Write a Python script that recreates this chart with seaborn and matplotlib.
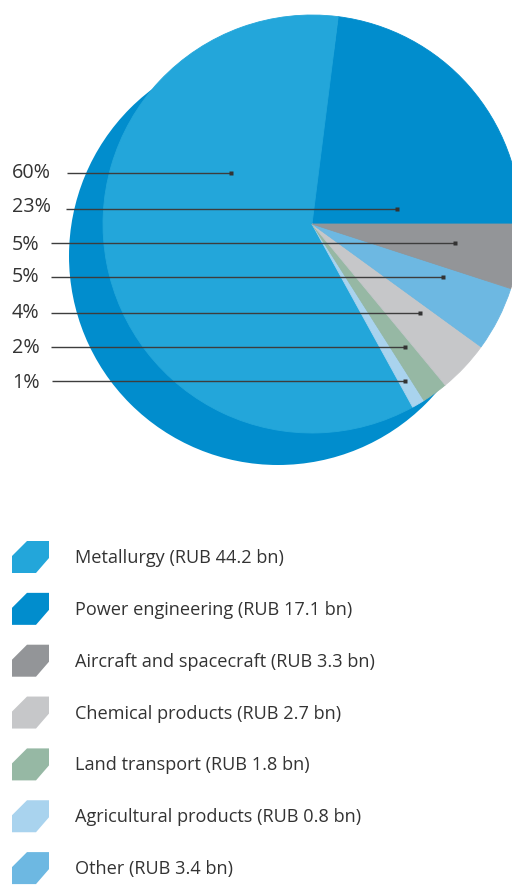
import matplotlib
matplotlib.use("Agg")
import matplotlib.pyplot as plt
from matplotlib.patches import Circle, Polygon
import seaborn as sns

# Revenue by industry
categories = ["Metallurgy", "Power engineering", "Aircraft and spacecraft",
              "Chemical products", "Land transport", "Agricultural products", "Other"]
revenue_bn = [44.2, 17.1, 3.3, 2.7, 1.8, 0.8, 3.4]
share_pct = [60, 23, 5, 4, 2, 1, 5]
colors = ["#23a6da", "#018dcd", "#939598", "#c6c7c9", "#96b8a4", "#a9d3ee", "#6db8e2"]

# wedge order, counter-clockwise starting at 3 o'clock
pie_order = ["Power engineering", "Metallurgy", "Agricultural products",
             "Land transport", "Chemical products", "Other", "Aircraft and spacecraft"]

# percentage callouts, top to bottom
callout_order = ["Metallurgy", "Power engineering", "Aircraft and spacecraft", "Other",
                 "Chemical products", "Land transport", "Agricultural products"]

W, H = 512, 885
TEXT = "#333333"
LINE = "#3d3d3d"

sns.set_theme(style="white")
plt.rcParams["font.family"] = ["Open Sans", "DejaVu Sans"]

fig = plt.figure(figsize=(W / 100, H / 100), dpi=100)
ax = fig.add_axes([0, 0, 1, 1])

color_of = dict(zip(categories, colors))
share_of = dict(zip(categories, share_pct))

# darker disc offset behind the pie
ax.add_patch(Circle((278, 256), 209, facecolor=color_of["Power engineering"],
                    edgecolor="none", zorder=1))

# y axis is flipped below, so clockwise in data space reads counter-clockwise on screen
wedges, _ = ax.pie([share_of[c] for c in pie_order],
                   colors=[color_of[c] for c in pie_order],
                   center=(312, 224), radius=209, startangle=0, counterclock=False,
                   wedgeprops=dict(linewidth=0.6))
for w in wedges:
    w.set_edgecolor(w.get_facecolor())
    w.set_zorder(2)

# callout lines with anchor dots
line_y = [173, 209, 243, 277.3, 312.5, 346.7, 381]
line_x0 = [67, 66, 51, 51, 51, 51, 52]
line_x1 = [231, 397, 455, 443, 420, 405, 405]
text_base = [177.5, 212, 249.5, 282, 318.5, 353, 388]
for cat, y, x0, x1, tb in zip(callout_order, line_y, line_x0, line_x1, text_base):
    ax.plot([x0, x1], [y, y], color=LINE, lw=1.0, zorder=3, solid_capstyle="butt")
    ax.plot([x1], [y], marker="s", ms=3.2, color="#333333", mec="none", zorder=4)
    ax.text(12, tb, f"{share_of[cat]}%", fontsize=14.2, color=TEXT,
            ha="left", va="baseline", zorder=4)

# legend with chamfered swatches
row0, step = 557, 51.85
for i, (cat, val) in enumerate(zip(categories, revenue_bn)):
    cy = row0 + i * step
    swatch = Polygon([(12, cy - 1), (27, cy - 16), (49, cy - 16), (49, cy + 1),
                      (36, cy + 16), (12, cy + 16)], closed=True,
                     facecolor=color_of[cat], edgecolor="none", zorder=3)
    ax.add_patch(swatch)
    ax.text(75, cy + 6, f"{cat} (RUB {val} bn)", fontsize=13.1, color=TEXT,
            ha="left", va="baseline", zorder=4)

ax.set_xlim(0, W)
ax.set_ylim(H, 0)
ax.set_aspect("equal")
ax.axis("off")

fig.savefig("out.png", dpi=100)
